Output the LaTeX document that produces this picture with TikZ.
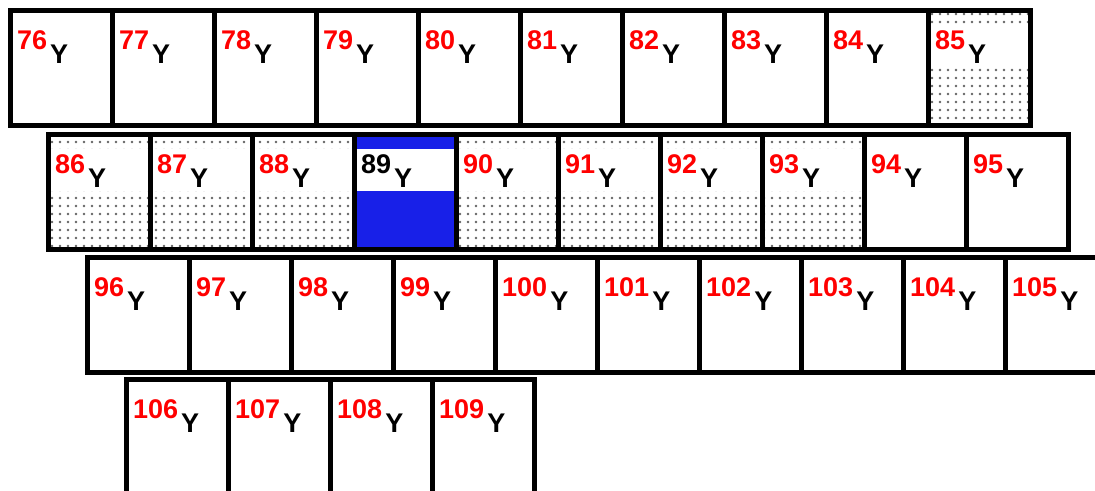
\documentclass[tikz,border=0pt]{standalone}
\usepackage{fontspec}
\setmainfont{Liberation Sans}
\usetikzlibrary{patterns,calc}
\pgfdeclarepatternformonly{cdots}{\pgfqpoint{-1pt}{-1pt}}{\pgfqpoint{9pt}{9pt}}{\pgfqpoint{8pt}{8pt}}{\pgfpathcircle{\pgfqpoint{4pt}{4pt}}{1.3pt}\pgfusepath{fill}}
\definecolor{numred}{RGB}{255,0,0}
\definecolor{selblue}{RGB}{24,32,232}
\definecolor{dotgray}{RGB}{100,100,100}
\begin{document}
\begin{tikzpicture}[x=1pt,y=1pt,
  cell/.style={draw=black, line width=5pt, minimum width=102pt, minimum height=115pt,
    inner sep=0pt, outer sep=0pt, anchor=north west},
  band/.style={path picture={\fill[white]
    ($(path picture bounding box.north west)+(0,-15)$) rectangle
    ($(path picture bounding box.north east)+(0,-57)$);}},
  dotcell/.style={cell, pattern=cdots, pattern color=dotgray, band},
  bluecell/.style={cell, fill=selblue, band},
  lab/.style={anchor=base west, inner sep=0pt, font=\bfseries\fontsize{27}{27}\selectfont}]
\fill[white] (0,0) rectangle (1095,-490);
\useasboundingbox (0,0) rectangle (1095,-490);
% row 1
\foreach \n/\st/\col [count=\i from 0] in {76/cell/numred,77/cell/numred,78/cell/numred,79/cell/numred,80/cell/numred,81/cell/numred,82/cell/numred,83/cell/numred,84/cell/numred,85/dotcell/numred}{
  \node[\st] (c\n) at ({10+102*\i},-10) {};
  \node[lab] (l\n) at ($(c\n.north west)+(7,-39)$) {\textcolor{\col}{\n}\hspace{3pt}\raisebox{-14pt}{Y}};
}
% row 2
\foreach \n/\st/\col [count=\i from 0] in {86/dotcell/numred,87/dotcell/numred,88/dotcell/numred,89/bluecell/black,90/dotcell/numred,91/dotcell/numred,92/dotcell/numred,93/dotcell/numred,94/cell/numred,95/cell/numred}{
  \node[\st] (c\n) at ({48+102*\i},-134) {};
  \node[lab] (l\n) at ($(c\n.north west)+(7,-39)$) {\textcolor{\col}{\n}\hspace{3pt}\raisebox{-14pt}{Y}};
}
% row 3
\foreach \n [count=\i from 0] in {96,...,105}{
  \node[cell] (c\n) at ({87+102*\i},-257) {};
  \node[lab] (l\n) at ($(c\n.north west)+(7,-39)$) {\textcolor{numred}{\n}\hspace{3pt}\raisebox{-14pt}{Y}};
}
% row 4
\foreach \n [count=\i from 0] in {106,...,109}{
  \node[cell] (c\n) at ({126+102*\i},-379) {};
  \node[lab] (l\n) at ($(c\n.north west)+(7,-39)$) {\textcolor{numred}{\n}\hspace{3pt}\raisebox{-14pt}{Y}};
}
\end{tikzpicture}
\end{document}
